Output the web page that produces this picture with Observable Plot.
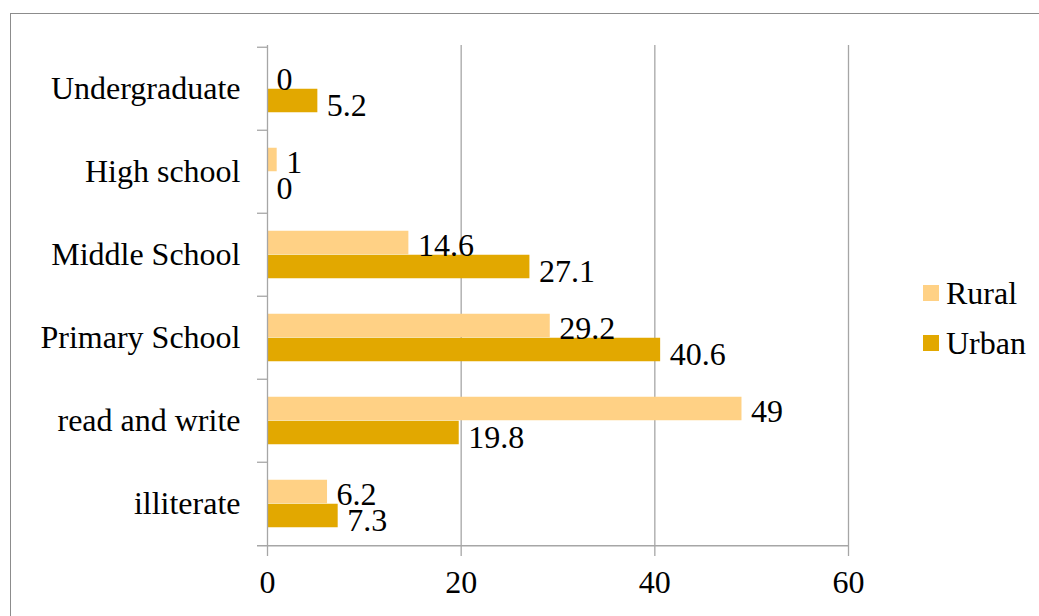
<!DOCTYPE html>
<html>
<head>
<meta charset="utf-8">
<script src="https://cdn.jsdelivr.net/npm/d3@7"></script>
<script src="https://cdn.jsdelivr.net/npm/@observablehq/plot@0.6"></script>
<style>
  html, body { margin: 0; padding: 0; background: #fff; }
  #wrap { position: relative; width: 1039px; height: 616px; overflow: hidden; font-family: "Liberation Serif", "Times New Roman", serif; }
  #border { position: absolute; left: 10px; top: 13px; width: 1200px; height: 800px; border: 1.5px solid #8c8c8c; box-sizing: border-box; }
  #chart { position: absolute; left: 0; top: 0; }
  #legend { position: absolute; left: 923px; top: 268px; font-size: 32px; color: #000; }
  .item { display: flex; align-items: center; height: 50px; }
  .sw { width: 16px; height: 16px; margin-right: 7px; }
</style>
</head>
<body>
<div id="wrap">
  <div id="border"></div>
  <div id="chart"></div>
  <div id="legend"></div>
</div>
<script>
const categories = ["Undergraduate", "High school", "Middle School", "Primary School", "read and write", "illiterate"];
const series = ["Rural", "Urban"];
const colors = ["#FFD185", "#E2A800"];
const ruralValues = [0, 1, 14.6, 29.2, 49, 6.2];
const urbanValues = [5.2, 0, 27.1, 40.6, 19.8, 7.3];
const xTicks = [0, 20, 40, 60];

const rural = categories.map((c, i) => ({category: c, value: ruralValues[i]}));
const urban = categories.map((c, i) => ({category: c, value: urbanValues[i]}));

const W = 1039, H = 616;
const mTop = 45, mBottom = 70, mLeft = 267, mRight = 191;
const band = (H - mTop - mBottom) / categories.length;
const half = band / 2;
const barH = 24;
const gray = "#a6a6a6";

const chart = Plot.plot({
  width: W,
  height: H,
  marginTop: mTop,
  marginBottom: mBottom,
  marginLeft: mLeft,
  marginRight: mRight,
  style: {fontFamily: "'Liberation Serif', 'Times New Roman', serif", fontSize: "32px", color: "#000", background: "transparent"},
  x: {domain: [0, 60], ticks: xTicks, label: null},
  y: {domain: categories, padding: 0, label: null},
  marks: [
    Plot.ruleX(xTicks.slice(1), {stroke: gray, strokeWidth: 1.3}),
    Plot.barX(rural, {x: "value", y: "category", fill: colors[0], insetTop: half - barH, insetBottom: half}),
    Plot.barX(urban, {x: "value", y: "category", fill: colors[1], insetTop: half, insetBottom: half - barH}),
    Plot.ruleX([0], {stroke: gray, strokeWidth: 1.3}),
    Plot.ruleY([categories[categories.length - 1]], {dy: half, insetLeft: -10, stroke: gray, strokeWidth: 1.3}),
    Plot.axisY({tickSize: 10, text: null, dy: -half, stroke: gray, strokeWidth: 1.3, label: null}),
    Plot.axisY({tickSize: 0, tickPadding: 27, fill: "#000", label: null}),
    Plot.axisX(xTicks, {tickSize: 10, tickPadding: 14, stroke: gray, strokeWidth: 1.3, fill: "#000", label: null}),
    Plot.text(rural, {x: "value", y: "category", text: d => String(d.value), dx: 9, dy: -barH / 2 + 3, textAnchor: "start", fill: "#000"}),
    Plot.text(urban, {x: "value", y: "category", text: d => String(d.value), dx: 9, dy: barH / 2 + 5, textAnchor: "start", fill: "#000"})
  ]
});
document.getElementById("chart").appendChild(chart);

const legend = document.getElementById("legend");
series.forEach((s, i) => {
  const item = document.createElement("div");
  item.className = "item";
  const sw = document.createElement("div");
  sw.className = "sw";
  sw.style.background = colors[i];
  const t = document.createElement("span");
  t.textContent = s;
  item.appendChild(sw);
  item.appendChild(t);
  legend.appendChild(item);
});
</script>
</body>
</html>
